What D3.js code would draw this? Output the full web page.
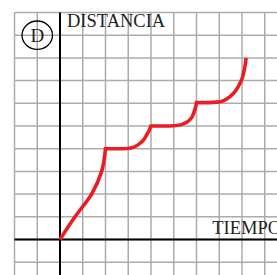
<!DOCTYPE html>
<html><head><meta charset="utf-8">
<script src="https://cdn.jsdelivr.net/npm/d3@7"></script>
<style>html,body{margin:0;padding:0;background:#fff;overflow:hidden}</style>
</head><body>
<script>
// Data (grid units: time on x, distance on y)
const gridXTicks = [-2,-1,0,1,2,3,4,5,6,7,8,9,10];
const gridYTicks = [-1,0,1,2,3,4,5,6,7,8,9,10];
const seg1 = [[0,0],[0.66,1],[1.39,2],[1.83,3],[2,4]];
const seg2 = [[2,4],[2.6,4],[2.95,4.01],[3.25,4.07],[3.52,4.24],[3.72,4.45],[3.86,4.7],[3.96,4.9],[4,5.05]];
const seg3 = [[4,5],[4.6,5],[5.0,5.01],[5.3,5.05],[5.55,5.15],[5.71,5.28],[5.83,5.45],[5.92,5.7],[5.97,5.88],[6,6.03]];
const seg4 = [[6,6.03],[6.5,6.03],[6.9,6.05],[7.2,6.12],[7.47,6.29],[7.72,6.55],[7.91,6.88],[8.03,7.17],[8.1,7.47],[8.15,7.75],[8.18,8]];
const labels = {y:"DISTANCIA", x:"TIEMPO", tag:"D"};

const W=277,H=275;
const svg=d3.select("body").append("svg").attr("width",W).attr("height",H);
const x=d3.scaleLinear().domain([0,1]).range([60,82.75]);
const y=d3.scaleLinear().domain([0,1]).range([239.5,216.8]);
const gLeft=x(-2), gTop=y(10);

const g=svg.append("g");
g.selectAll("line.v").data(gridXTicks).join("line")
  .attr("x1",d=>x(d)).attr("x2",d=>x(d)).attr("y1",gTop).attr("y2",H)
  .attr("stroke","#ababab").attr("stroke-width",1.5);
g.selectAll("line.h").data(gridYTicks).join("line")
  .attr("x1",gLeft).attr("x2",W).attr("y1",d=>y(d)).attr("y2",d=>y(d))
  .attr("stroke","#ababab").attr("stroke-width",1.5);

// axes
svg.append("line").attr("x1",x(0)).attr("x2",x(0)).attr("y1",gTop).attr("y2",H)
  .attr("stroke","#000").attr("stroke-width",2);
svg.append("line").attr("x1",gLeft).attr("x2",W).attr("y1",y(0)).attr("y2",y(0))
  .attr("stroke","#000").attr("stroke-width",2);

// labels
svg.append("text").attr("x",67).attr("y",26.5).text(labels.y)
  .attr("font-family","Liberation Serif, serif").attr("font-size",18.5).attr("fill","#222");
svg.append("text").attr("x",212.3).attr("y",233.7).text(labels.x)
  .attr("font-family","Liberation Serif, serif").attr("font-size",18.5).attr("fill","#222");
svg.append("ellipse").attr("cx",x(-1)).attr("cy",y(9)).attr("rx",15.2).attr("ry",14.2)
  .attr("fill","none").attr("stroke","#000").attr("stroke-width",1.3);
svg.append("text").attr("x",x(-1)).attr("y",y(9)+6.5).attr("text-anchor","middle").text(labels.tag)
  .attr("font-family","Liberation Serif, serif").attr("font-size",19).attr("fill","#222");

// curve
const lineX=d3.line().x(d=>x(d[0])).y(d=>y(d[1])).curve(d3.curveMonotoneX);
const lineY=d3.line().x(d=>x(d[0])).y(d=>y(d[1])).curve(d3.curveMonotoneY);
const path=[lineY(seg1)].concat([seg2,seg3,seg4].map(s=>lineX(s).replace(/^M/,"L"))).join("");
svg.append("path").attr("d",path).attr("fill","none").attr("stroke","#ec1c24")
  .attr("stroke-width",3.6).attr("stroke-linejoin","miter");
</script>
</body></html>
